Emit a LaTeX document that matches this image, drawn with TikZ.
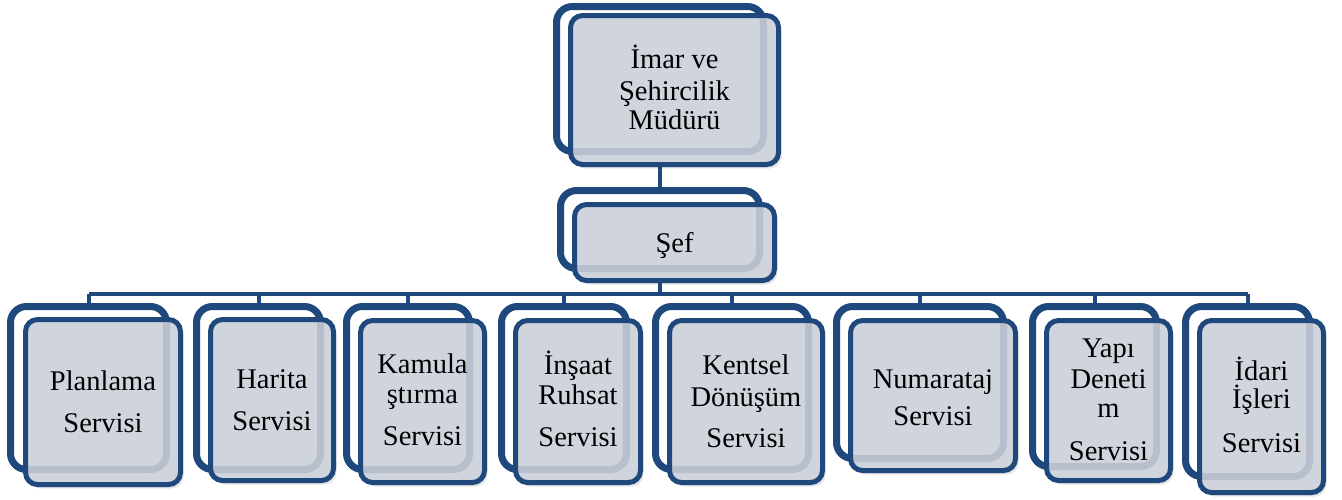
\documentclass[tikz,border=0pt]{standalone}
\usepackage{fontspec}
\setmainfont{Liberation Serif}
\pgfdeclarelayer{background}
\pgfsetlayers{background,main}
\definecolor{orgblue}{RGB}{31,73,125}
\definecolor{frontgray}{RGB}{208,212,221}
\definecolor{bandgray}{RGB}{184,191,204}
\tikzset{
  x=1pt, y=-1pt,
  backbox/.style={draw=orgblue, line width=7pt, fill=white, rounded corners=16pt, inner sep=0pt},
  frontfill/.style={fill=frontgray, rounded corners=12pt, inner sep=0pt},
  frontline/.style={draw=orgblue, line width=5pt, rounded corners=12pt},
  bandline/.style={draw=bandgray, line width=7pt, rounded corners=16pt},
  shadowA/.style={fill=black, opacity=0.10, rounded corners=12pt},
  conn/.style={draw=orgblue, line width=4pt},
  txt/.style={anchor=base, inner sep=0pt, font=\fontsize{28.5}{30}\selectfont, text=black}
}
% #1 name, #2-#5 back outer edges x1 y1 x2 y2, #6-#9 front outer edges
\newcommand\orgbox[9]{%
  \node[backbox, minimum width={#4-#2-7}, minimum height={#5-#3-7}] (#1B) at ({(#2+#4)/2},{(#3+#5)/2}) {};
  \path[shadowA] ({#6+2.5+3},{#7+2.5+4}) rectangle ({#8-2.5+3},{#9-2.5+4});
  \path[shadowA] ({#6+2.5+1.5},{#7+2.5+2}) rectangle ({#8-2.5+1.5},{#9-2.5+2});
  \node[frontfill, minimum width={#8-#6-5}, minimum height={#9-#7-5}] (#1F) at ({(#6+#8)/2},{(#7+#9)/2}) {};
  \begin{scope}
    \clip[rounded corners=12pt] ({#6+2.5},{#7+2.5}) rectangle ({#8-2.5},{#9-2.5});
    \path[bandline] ({#2+3.5},{#3+3.5}) rectangle ({#4-3.5},{#5-3.5});
  \end{scope}
  \path[frontline] ({#6+2.5},{#7+2.5}) rectangle ({#8-2.5},{#9-2.5});
}
\begin{document}
\begin{tikzpicture}
\useasboundingbox (0,0) rectangle (1342,499);
\coordinate (bus) at (660,294);

\orgbox{imar}{553}{3}{767}{155}{568}{13}{781}{167}
\orgbox{sef}{557}{187}{763}{272}{572}{202}{777}{283}
\orgbox{k1}{7}{303}{170}{473}{23}{317}{183}{487}
\orgbox{k2}{193}{303}{324}{473}{208}{317}{336}{483}
\orgbox{k3}{343}{303}{473}{473}{358}{318}{487}{485}
\orgbox{k4}{498}{303}{630}{473}{513}{318}{643}{485}
\orgbox{k5}{652}{303}{812}{473}{667}{318}{825}{485}
\orgbox{k6}{833}{303}{1007}{462}{848}{318}{1018}{473}
\orgbox{k7}{1029}{303}{1160}{470}{1044}{318}{1173}{483}
\orgbox{k8}{1182}{303}{1313}{480}{1197}{318}{1326}{495}

\begin{pgfonlayer}{background}
  \draw[conn] (imarB.center) -- (sefB.center);
  \draw[conn] (sefB.center) -- (sefB.center |- bus);
  \draw[conn] (k1B.north |- bus) -- (k8B.north |- bus);
  \foreach \k in {k1,k2,k3,k4,k5,k6,k7,k8}{
    \draw[conn] (\k B.north) -- (\k B.north |- bus);
  }
\end{pgfonlayer}

% texts
\node[txt] (imarT1) at (674.5,68) {İmar ve};
\node[txt] (imarT2) at (674.5,100) {Şehircilik};
\node[txt] (imarT3) at (674.5,129) {Müdürü};
\node[txt] (sefT) at (674.5,252) {Şef};
\node[txt] (k1T1) at (103,390) {Planlama};
\node[txt] (k1T2) at (103,432) {Servisi};
\node[txt] (k2T1) at (272,388) {Harita};
\node[txt] (k2T2) at (272,430) {Servisi};
\node[txt] (k3T1) at (422.5,373) {Kamula};
\node[txt] (k3T2) at (422.5,403) {ştırma};
\node[txt] (k3T3) at (422.5,445) {Servisi};
\node[txt] (k4T1) at (578,374) {İnşaat};
\node[txt] (k4T2) at (578,404) {Ruhsat};
\node[txt] (k4T3) at (578,446) {Servisi};
\node[txt] (k5T1) at (746,374) {Kentsel};
\node[txt] (k5T2) at (746,406) {Dönüşüm};
\node[txt] (k5T3) at (746,447) {Servisi};
\node[txt] (k6T1) at (933,388) {Numarataj};
\node[txt] (k6T2) at (933,425) {Servisi};
\node[txt] (k7T1) at (1108.5,357) {Yapı};
\node[txt] (k7T2) at (1108.5,388) {Deneti};
\node[txt] (k7T3) at (1108.5,417) {m};
\node[txt] (k7T4) at (1108.5,460) {Servisi};
\node[txt] (k8T1) at (1261.5,380) {İdari};
\node[txt] (k8T2) at (1261.5,408) {İşleri};
\node[txt] (k8T3) at (1261.5,452) {Servisi};
\end{tikzpicture}
\end{document}
